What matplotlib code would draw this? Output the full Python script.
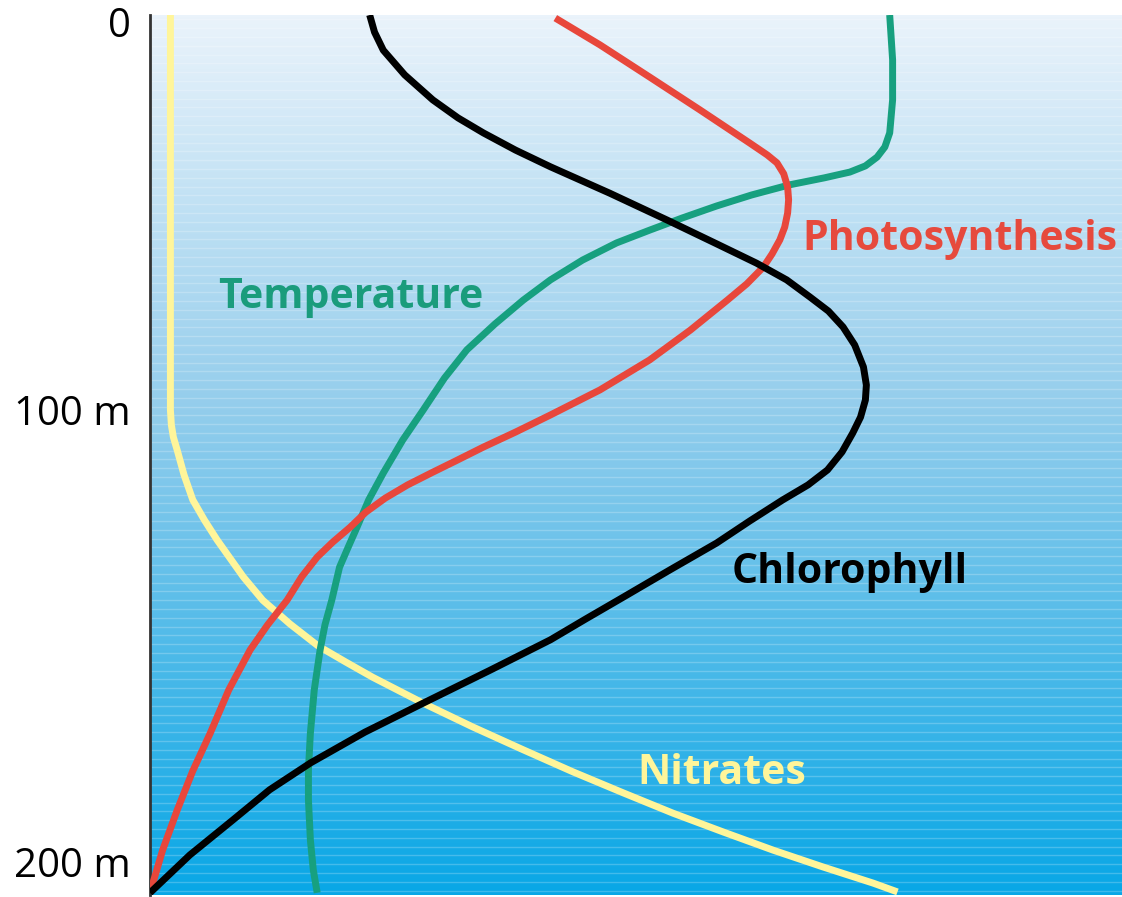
import matplotlib
matplotlib.use("Agg")
import matplotlib.pyplot as plt
import numpy as np
from matplotlib.colors import LinearSegmentedColormap

# depth in m (0 at surface), value = relative position across the panel (0-100)
nitrate_depth = [0, 64.8, 89.8, 93.2, 95.9, 98.9, 104.5, 110.2, 114.8, 119.3, 127.7,
                 133.0, 138.4, 143.4, 147.0, 150.5, 156.4, 161.8, 167.0, 172.0, 176.8,
                 181.4, 185.7, 189.8, 193.6, 197.3, 199.3]
nitrate_val = [2.1, 2.1, 2.1, 2.2, 2.4, 2.8, 3.5, 4.4, 5.6, 6.9, 9.6,
               11.6, 14.4, 17.3, 20.1, 22.9, 28.1, 33.2, 38.4, 43.5, 48.7,
               53.8, 59.0, 64.1, 69.2, 74.4, 76.9]

temp_depth = [0, 10.2, 19.3, 26.8, 30.0, 32.3, 34.3, 35.7, 37.0, 38.6, 40.9, 43.4,
              46.1, 48.9, 51.8, 55.7, 60.2, 64.8, 70.2, 76.1, 82.5, 89.8, 96.6, 104.1,
              110.2, 116.4, 120.9, 125.5, 133.0, 138.6, 144.3, 153.4, 163.2, 171.6,
              178.4, 187.5, 194.3, 199.5]
temp_val = [76.1, 76.4, 76.4, 76.1, 75.6, 74.8, 73.6, 72.0, 69.4, 65.8, 61.9, 58.3,
            54.8, 51.4, 48.0, 44.5, 41.2, 38.4, 35.5, 32.6, 30.3, 28.1, 26.0, 24.0,
            22.5, 21.3, 20.4, 19.5, 18.7, 18.0, 17.5, 16.9, 16.5, 16.3,
            16.3, 16.5, 16.8, 17.2]

photo_depth = [0.7, 6.8, 14.1, 21.6, 29.1, 31.8, 33.6, 36.1, 39.1, 42.0, 45.0, 48.2,
               51.1, 54.3, 57.3, 61.1, 64.8, 71.6, 78.4, 85.2, 90.9, 94.8, 98.2, 101.4,
               103.9, 106.8, 109.8, 113.0, 116.4, 119.8, 123.2, 127.7, 133.0, 138.6,
               144.3, 153.4, 163.2, 171.8, 180.7, 189.8, 199.5]
photo_val = [41.7, 46.3, 51.4, 56.6, 61.7, 63.5, 64.5, 65.2, 65.6, 65.7, 65.6, 65.3,
             64.8, 64.0, 63.1, 61.4, 59.4, 55.6, 51.4, 46.3, 41.2, 37.6, 34.3, 31.4,
             29.1, 26.5, 24.2, 22.2, 20.6, 18.8, 17.2, 15.6, 14.1, 12.1,
             10.3, 8.1, 6.2, 4.4, 2.8, 1.3, 0.0]

chloro_depth = [0, 3.9, 8.0, 13.6, 19.3, 23.4, 26.8, 30.7, 34.5, 40.5, 46.6, 51.8,
                56.4, 60.2, 64.1, 67.3, 70.9, 75.0, 80.0, 84.1, 87.5, 91.4, 95.0, 99.3,
                103.4, 106.8, 110.2, 115.0, 120.0, 126.1, 132.3, 137.3, 142.0, 148.9,
                156.4, 163.0, 170.0, 176.1, 183.0, 190.9, 199.5]
chloro_val = [22.6, 23.1, 24.0, 26.2, 29.1, 31.7, 34.3, 37.6, 41.2, 47.3, 53.2, 58.1,
              62.4, 65.5, 67.9, 69.8, 71.3, 72.5, 73.4, 73.7, 73.6, 73.1, 72.3, 71.2,
              69.7, 67.7, 65.1, 61.7, 58.3, 53.5, 48.7, 44.8, 41.2, 35.0,
              28.1, 22.1, 16.5, 12.3, 8.5, 4.1, 0.0]

tick_labels = ["0", "100 m", "200 m"]
tick_pos = [1.6, 89.8, 192.5]

fig = plt.figure(figsize=(11.22, 8.97), dpi=100)
ax = fig.add_axes([150 / 1122, 2 / 897, 972 / 1122, 880 / 897])

# background: light at the surface, saturated blue at depth
cmap = LinearSegmentedColormap.from_list(
    "sea", [(0, "#eaf3fb"), (0.45, "#93cdec"), (1, "#09a7e6")])
grad = np.linspace(0, 1, 256).reshape(-1, 1)
ax.imshow(grad, cmap=cmap, aspect="auto", extent=[0, 100, 200, 0], zorder=0)
for d in np.arange(1, 200, 2):
    ax.axhline(d, color="white", lw=1, alpha=0.22, zorder=1)

kw = dict(lw=5, solid_capstyle="butt", solid_joinstyle="round")
ax.plot(nitrate_val, nitrate_depth, color="#fff59a", zorder=3, **kw)
ax.plot(temp_val, temp_depth, color="#17a07f", zorder=3, **kw)
ax.plot(photo_val, photo_depth, color="#e8473b", zorder=4, **kw)
ax.plot(chloro_val, chloro_depth, color="black", zorder=4, **kw)

lab = dict(family=["Open Sans", "DejaVu Sans"], weight="bold", fontsize=29.5,
           ha="center", va="center", zorder=5)
ax.text(20.7, 64.1, "Temperature", color="#1a9c7c", **lab)
ax.text(83.3, 51.1, "Photosynthesis", color="#e64a3d", **lab)
ax.text(72.0, 126.6, "Chlorophyll", color="black", **lab)
ax.text(58.8, 172.3, "Nitrates", color="#fff59a", **lab)

ax.set_xlim(0, 100)
ax.set_ylim(200, 0)
ax.set_xticks([])
ax.set_yticks(tick_pos)
ax.set_yticklabels(tick_labels, family=["Open Sans", "DejaVu Sans"], fontsize=29)
ax.tick_params(axis="y", length=0, pad=14)
for s in ["top", "right", "bottom"]:
    ax.spines[s].set_visible(False)
ax.spines["left"].set_color("#333333")
ax.spines["left"].set_linewidth(2)

fig.savefig("out.png", dpi=100)
